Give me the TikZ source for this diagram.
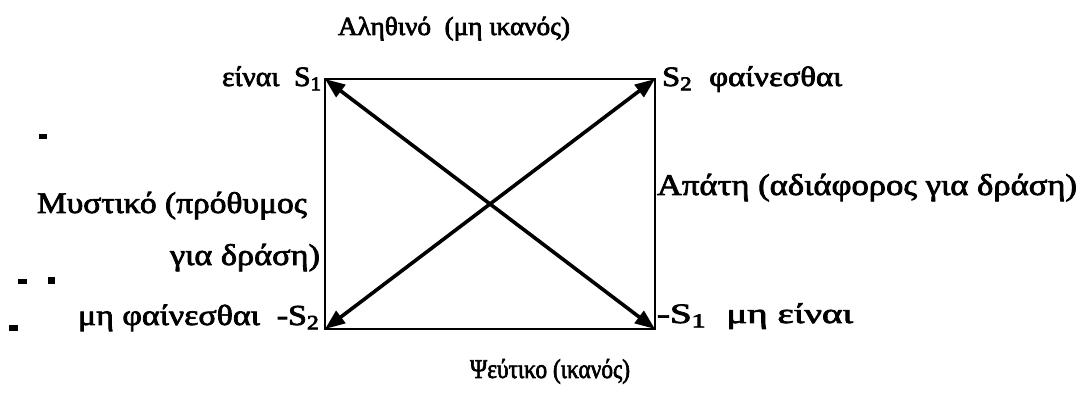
\documentclass[tikz,border=0pt]{standalone}
\usepackage{fontspec}
\setmainfont{Liberation Serif}
\usepackage{graphicx}
\usetikzlibrary{arrows.meta}
% heavier text, like the scanned original: fill and stroke the glyphs
\newcommand{\heavyon}{\special{pdf:literal direct 2 Tr 0.35 w}}
\newcommand{\heavyoff}{\special{pdf:literal direct 0 Tr}}
% set text at a size, then stretch horizontally to the given width
\newcommand{\fitw}[3]{\resizebox{#2}{\height}{\fontsize{#1}{#1}\selectfont\heavyon #3\heavyoff}}
\tikzset{
  edge/.style={line width=1.4pt, line cap=rect},
  diag/.style={line width=1.8pt, {Triangle[length=10pt,width=7.5pt]}-{Triangle[length=10pt,width=7.5pt]}},
  lbl/.style={inner sep=0pt, outer sep=0pt, text=black},
  speck/.style={fill=black, draw=none}
}
\begin{document}
\begin{tikzpicture}[x=0.5pt, y=-0.5pt]
\useasboundingbox (0,0) rectangle (1080,394);
% corners
\coordinate (tl) at (325,79);
\coordinate (tr) at (655,79);
\coordinate (bl) at (325,329);
\coordinate (br) at (655,329);
% square
\draw[edge] (tl) -- (tr) -- (br) -- (bl) -- cycle;
% diagonals
\draw[diag] (tl) -- (br);
\draw[diag] (bl) -- (tr);
% labels
\node[lbl, anchor=base west] (top) at (338,35) {\fitw{13pt}{116pt}{Αληθινό\ \ (μη ικανός)}};
\node[lbl, anchor=base east] (s1) at (322,86) {\fitw{14pt}{50pt}{είναι\ \ S\textsubscript{1}}};
\node[lbl, anchor=base west] (s2) at (662,86) {\fitw{14pt}{90pt}{S\textsubscript{2}\ \ φαίνεσθαι}};
\node[lbl, anchor=base east] (myst1) at (307,213) {\fitw{15pt}{135pt}{Μυστικό (πρόθυμος}};
\node[lbl, anchor=base east] (myst2) at (320,265) {\fitw{15pt}{75pt}{για δράση)}};
\node[lbl, anchor=base east] (ns2) at (320,325) {\fitw{14.5pt}{121pt}{μη φαίνεσθαι\ \ -S\textsubscript{2}}};
\node[lbl, anchor=base west] (apati) at (657,195) {\fitw{15pt}{210pt}{Απάτη (αδιάφορος για δράση)}};
\node[lbl, anchor=base west] (ns1) at (657,323) {\fitw{14pt}{98pt}{-S\textsubscript{1}\ \ μη είναι}};
\node[lbl, anchor=base west] (bottom) at (470,378) {\fitw{13.5pt}{80pt}{Ψεύτικο (ικανός)}};
% stray specks from the scan
\fill[speck] (39,134) rectangle (47,139);
\fill[speck] (18,279) rectangle (27,284);
\fill[speck] (48,277) rectangle (55,284);
\fill[speck] (9,325) rectangle (18,331);
\end{tikzpicture}
\end{document}
